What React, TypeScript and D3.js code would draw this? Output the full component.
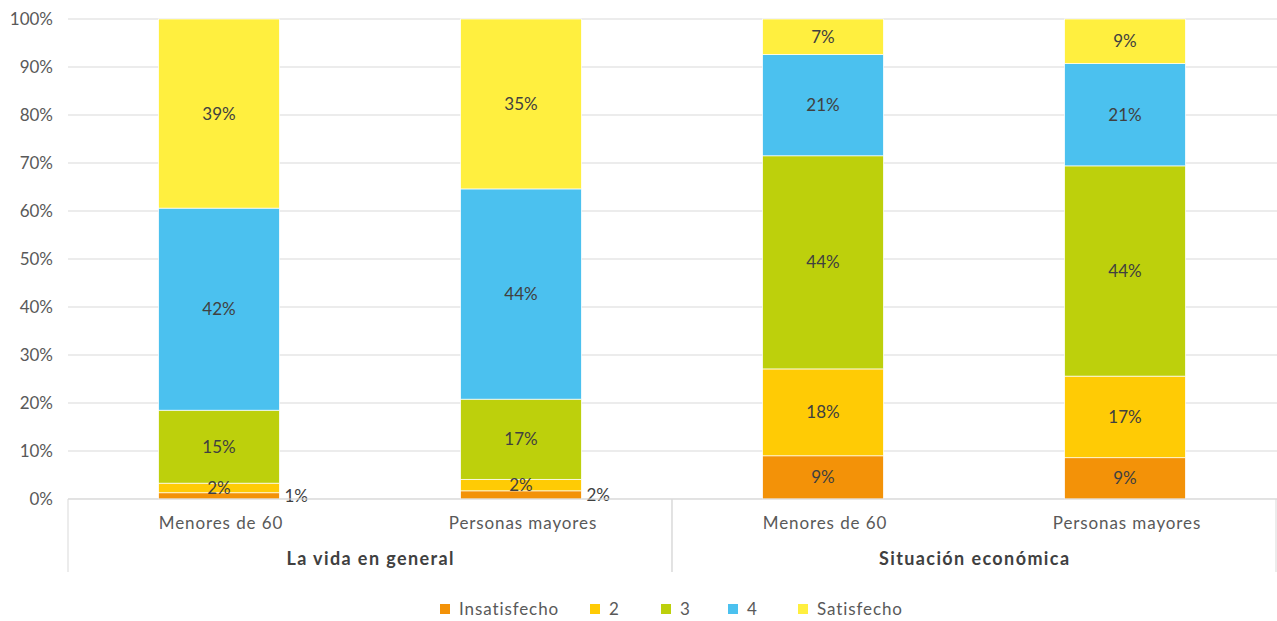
import React from "react";
import * as d3 from "d3";

const groups = ["La vida en general", "Situación económica"];
const categories = ["Menores de 60", "Personas mayores", "Menores de 60", "Personas mayores"];
const categoryGroup = [0, 0, 1, 1];
const seriesNames = ["Insatisfecho", "2", "3", "4", "Satisfecho"];
const seriesColors = ["#F39208", "#FFCB05", "#BDD00C", "#4BC1EF", "#FFEF3F"];
const insatisfecho = [1.3, 1.7, 9.0, 8.6];
const s2 = [2.0, 2.4, 18.1, 17.0];
const s3 = [15.2, 16.7, 44.4, 43.8];
const s4 = [42.1, 43.8, 21.1, 21.3];
const satisfecho = [39.4, 35.4, 7.4, 9.3];
const yTicks = [0, 10, 20, 30, 40, 50, 60, 70, 80, 90, 100];

const W = 1277;
const H = 621;
const FONT = "Lato, 'Noto Sans', sans-serif";

export default function App() {
  const left = 68;
  const right = 1276;
  const top = 19;
  const bottom = 499;
  const seriesData = [insatisfecho, s2, s3, s4, satisfecho];
  const rows = categories.map((c, i) => {
    const r: any = { i };
    seriesNames.forEach((s, k) => (r[s] = seriesData[k][i]));
    return r;
  });
  const stack = d3.stack<any>().keys(seriesNames)(rows);
  const x = d3
    .scaleBand<number>()
    .domain(categories.map((_, i) => i))
    .range([left, right])
    .paddingInner(0.6)
    .paddingOuter(0.3);
  const y = d3.scaleLinear().domain([0, 100]).range([bottom, top]);
  const bw = x.bandwidth();
  const groupX = (g: number) => {
    const idx = categoryGroup.map((gg, i) => (gg === g ? i : -1)).filter((i) => i >= 0);
    const step = x.step();
    const x0 = (x(idx[0]) as number) - (step - bw) / 2;
    const x1 = (x(idx[idx.length - 1]) as number) + bw + (step - bw) / 2;
    return [x0, x1];
  };
  const legendX = [440, 590, 661, 728, 798];

  return (
    <svg width={W} height={H} style={{ position: "absolute", left: 0, top: 0, fontFamily: FONT }}>
      <rect width={W} height={H} fill="#fff" />
      {yTicks.map((t) => (
        <g key={t}>
          <line x1={left} x2={W} y1={y(t)} y2={y(t)} stroke="#d9d9d9" strokeWidth={1} />
          <text x={53} y={y(t)} dy="0.35em" textAnchor="end" fontSize={17} fill="#595959">
            {t}%
          </text>
        </g>
      ))}
      {stack.map((layer, k) => (
        <g key={k}>
          {layer.map((d, i) => (
            <rect
              key={i}
              x={x(i)}
              width={bw}
              y={y(d[1])}
              height={y(d[0]) - y(d[1])}
              fill={seriesColors[k]}
              stroke="#fff"
              strokeWidth={0.7}
            />
          ))}
        </g>
      ))}
      {stack.map((layer, k) => (
        <g key={"l" + k}>
          {layer.map((d, i) => {
            const v = d[1] - d[0];
            const outside = v < 1.8;
            const cx = outside ? (x(i) as number) + bw + 5 : (x(i) as number) + bw / 2;
            const cy = (y(d[0]) + y(d[1])) / 2;
            return (
              <text
                key={i}
                x={cx}
                y={cy}
                dy="0.35em"
                textAnchor={outside ? "start" : "middle"}
                fontSize={17}
                fill="#404040"
              >
                {Math.round(v)}%
              </text>
            );
          })}
        </g>
      ))}
      <line x1={left} x2={W} y1={bottom} y2={bottom} stroke="#d9d9d9" />
      {[0, 1].map((g) => {
        const [x0, x1] = groupX(g);
        return (
          <g key={g}>
            <line x1={x0} x2={x0} y1={bottom} y2={572} stroke="#d9d9d9" />
            <line x1={x1} x2={x1} y1={bottom} y2={572} stroke="#d9d9d9" />
            <text
              x={(x0 + x1) / 2 + 0.7}
              y={559}
              dy="0.35em"
              textAnchor="middle"
              fontSize={18}
              fontWeight="bold"
              fill="#404040"
              letterSpacing={1.4}
            >
              {groups[g]}
            </text>
          </g>
        );
      })}
      {categories.map((c, i) => (
        <text
          key={i}
          x={(x(i) as number) + bw / 2 + 2}
          y={523}
          dy="0.35em"
          textAnchor="middle"
          fontSize={17}
          fill="#595959"
          letterSpacing={0.9}
        >
          {c}
        </text>
      ))}
      {seriesNames.map((s, k) => (
        <g key={s}>
          <rect x={legendX[k]} y={604} width={10} height={10} fill={seriesColors[k]} />
          <text x={legendX[k] + 19} y={609} dy="0.35em" fontSize={17} fill="#595959" letterSpacing={0.9}>
            {s}
          </text>
        </g>
      ))}
    </svg>
  );
}
